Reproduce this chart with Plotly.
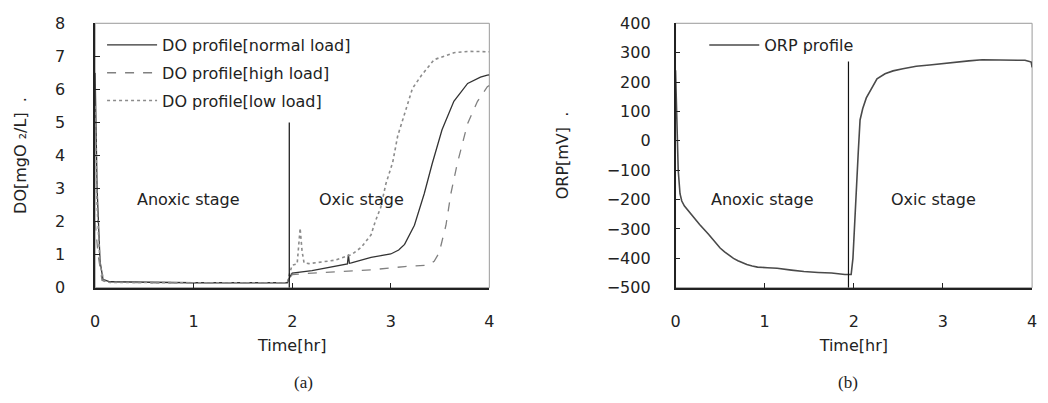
import plotly.graph_objects as go

# ---------------- data ----------------
# (a) DO profiles
t_normal = [0, 0.02, 0.05, 0.08, 0.15, 0.5, 1.0, 1.5, 1.95, 1.98, 2.0, 2.2, 2.4, 2.56, 2.57, 2.58, 2.6, 2.8, 3.0, 3.08, 3.14, 3.24, 3.34, 3.42, 3.52, 3.64, 3.78, 3.91, 3.98, 4.0]
do_normal = [6.5, 3.0, 0.8, 0.25, 0.18, 0.16, 0.15, 0.15, 0.15, 0.35, 0.44, 0.52, 0.62, 0.72, 1.0, 0.74, 0.75, 0.92, 1.02, 1.14, 1.31, 1.89, 2.85, 3.75, 4.78, 5.64, 6.18, 6.37, 6.43, 6.44]

t_high = [0, 0.03, 0.07, 0.15, 0.5, 1.0, 1.5, 1.95, 1.98, 2.0, 2.3, 2.6, 2.8, 3.14, 3.37, 3.44, 3.49, 3.56, 3.61, 3.675, 3.78, 3.88, 3.98, 4.0]
do_high = [2.0, 1.0, 0.22, 0.17, 0.15, 0.15, 0.15, 0.15, 0.3, 0.4, 0.46, 0.5, 0.54, 0.64, 0.68, 0.8, 1.05, 1.89, 2.85, 3.76, 4.97, 5.64, 6.08, 6.12]

t_low = [0, 0.02, 0.05, 0.09, 0.15, 0.5, 1.0, 1.5, 1.95, 1.98, 2.0, 2.05, 2.08, 2.1, 2.12, 2.17, 2.43, 2.6, 2.7, 2.8, 2.84, 2.9, 2.95, 3.02, 3.07, 3.14, 3.22, 3.31, 3.44, 3.64, 3.8, 3.98, 4.0]
do_low = [5.5, 2.5, 0.7, 0.2, 0.16, 0.15, 0.15, 0.15, 0.15, 0.5, 0.68, 0.72, 1.8, 1.1, 0.75, 0.73, 0.83, 1.0, 1.22, 1.6, 1.98, 2.45, 3.14, 3.8, 4.59, 5.26, 6.03, 6.42, 6.9, 7.11, 7.15, 7.14, 7.14]

# (b) ORP profile
t_orp = [0, 0.01, 0.03, 0.05, 0.07, 0.1, 0.18, 0.27, 0.37, 0.46, 0.5, 0.55, 0.6, 0.65, 0.7, 0.74, 0.8, 0.86, 0.92, 1.03, 1.14, 1.3, 1.44, 1.6, 1.75, 1.9, 1.97, 1.99, 2.01, 2.03, 2.05, 2.07, 2.1, 2.14, 2.2, 2.26, 2.35, 2.44, 2.55, 2.7, 2.85, 3.07, 3.29, 3.44, 3.7, 3.92, 3.97, 3.99, 4.0]
orp = [240, 100, -100, -180, -205, -222, -253, -285, -318, -350, -365, -378, -390, -400, -408, -414, -421, -426, -430, -432, -434, -440, -445, -448, -450, -455, -455, -400, -260, -177, -37, 71, 110, 146, 180, 211, 228, 238, 245, 254, 258, 266, 272, 276, 276, 274, 270, 268, 250]

# stage separators
sep_a_t = [1.97, 1.97]
sep_a_v = [0, 5]
sep_b_t = [1.94, 1.94]
sep_b_v = [-500, 270]

x_ticks = [0, 1, 2, 3, 4]
do_ticks = [0, 1, 2, 3, 4, 5, 6, 7, 8]
orp_ticks = [-500, -400, -300, -200, -100, 0, 100, 200, 300, 400]

FONT = "DejaVu Sans"
FS = 16

fig = go.Figure()

fig.add_trace(go.Scatter(x=t_normal, y=do_normal, mode="lines", name="DO profile[normal load]",
                         line=dict(color="#333333", width=1.3), xaxis="x", yaxis="y",
                         legend="legend", legendgroup="n"))
fig.add_trace(go.Scatter(x=t_high, y=do_high, mode="lines", name="DO profile[high load]",
                         line=dict(color="#808080", width=1.3, dash="dash"), xaxis="x", yaxis="y",
                         legend="legend", legendgroup="h"))
fig.add_trace(go.Scatter(x=t_low, y=do_low, mode="lines", name="DO profile[low load]",
                         line=dict(color="#8c8c8c", width=1.6, dash="dot"), xaxis="x", yaxis="y",
                         legend="legend", legendgroup="l"))
fig.add_trace(go.Scatter(x=sep_a_t, y=sep_a_v, mode="lines", showlegend=False,
                         line=dict(color="#111111", width=1.2), xaxis="x", yaxis="y"))

fig.add_trace(go.Scatter(x=t_orp, y=orp, mode="lines", name="ORP profile",
                         line=dict(color="#4a4a4a", width=1.6), xaxis="x2", yaxis="y2",
                         legend="legend2"))
fig.add_trace(go.Scatter(x=sep_b_t, y=sep_b_v, mode="lines", showlegend=False,
                         line=dict(color="#111111", width=1.2), xaxis="x2", yaxis="y2"))

yb, yt = 1 - 292.5 / 403, 1 - 15 / 403
axis_common = dict(showgrid=False, zeroline=False, showline=True, linecolor="#222222", linewidth=1.5,
                   ticks="inside", ticklen=5, tickcolor="#222222", tickwidth=1,
                   tickfont=dict(family=FONT, size=FS, color="#222222"))

fig.update_layout(
    width=1048, height=403,
    margin=dict(l=0, r=0, t=0, b=0),
    paper_bgcolor="white", plot_bgcolor="white",
    font=dict(family=FONT, size=FS, color="#222222"),
    xaxis=dict(domain=[91 / 1048, 489 / 1048], range=[0, 4], tickvals=x_ticks,
               ticklabelstandoff=18,
               title=dict(text="Time[hr]", standoff=10, font=dict(family=FONT, size=FS)),
               anchor="y", **axis_common),
    yaxis=dict(domain=[yb, yt], range=[0, 8], tickvals=do_ticks, ticklabelstandoff=25,
               title=dict(text="DO[mgO ₂/L]  .", standoff=24, font=dict(family=FONT, size=FS)),
               anchor="x", **axis_common),
    xaxis2=dict(domain=[677 / 1048, 1037 / 1048], range=[0, 4], tickvals=x_ticks,
                ticklabelstandoff=18,
                title=dict(text="Time[hr]", standoff=10, font=dict(family=FONT, size=FS)),
                anchor="y2", **axis_common),
    yaxis2=dict(domain=[yb, yt], range=[-500, 400], tickvals=orp_ticks, ticklabelstandoff=20,
                title=dict(text="ORP[mV]  .", standoff=34, font=dict(family=FONT, size=FS)),
                anchor="x2", **axis_common),
    legend=dict(x=98 / 1048, y=1 - 20 / 403, xanchor="left", yanchor="top",
                bgcolor="rgba(0,0,0,0)", font=dict(family=FONT, size=FS, color="#222222"),
                tracegroupgap=4, itemwidth=50),
    legend2=dict(x=706 / 1048, y=1 - 20 / 403, xanchor="left", yanchor="top",
                 bgcolor="rgba(0,0,0,0)", font=dict(family=FONT, size=FS, color="#222222"),
                 itemwidth=50),
    shapes=[
        dict(type="rect", xref="x domain", yref="y domain", x0=0, x1=1, y0=0, y1=1,
             line=dict(color="#9a9a9a", width=1), layer="below"),
        dict(type="rect", xref="x2 domain", yref="y2 domain", x0=0, x1=1, y0=0, y1=1,
             line=dict(color="#9a9a9a", width=1), layer="below"),
    ],
    annotations=[
        dict(x=0.945, y=2.66, xref="x", yref="y", text="Anoxic stage", showarrow=False,
             font=dict(family=FONT, size=FS, color="#222222")),
        dict(x=2.7, y=2.66, xref="x", yref="y", text="Oxic stage", showarrow=False,
             font=dict(family=FONT, size=FS, color="#222222")),
        dict(x=0.98, y=-200, xref="x2", yref="y2", text="Anoxic stage", showarrow=False,
             font=dict(family=FONT, size=FS, color="#222222")),
        dict(x=2.89, y=-200, xref="x2", yref="y2", text="Oxic stage", showarrow=False,
             font=dict(family=FONT, size=FS, color="#222222")),
        dict(x=290 / 1048, y=1 - 392 / 403, xref="paper", yref="paper", text="(a)", showarrow=False,
             yanchor="middle", font=dict(family="Liberation Serif", size=17, color="#222222")),
        dict(x=863 / 1048, y=1 - 392 / 403, xref="paper", yref="paper", text="(b)", showarrow=False,
             yanchor="middle", font=dict(family="Liberation Serif", size=17, color="#222222")),
    ],
)

fig.write_html("out.html")
